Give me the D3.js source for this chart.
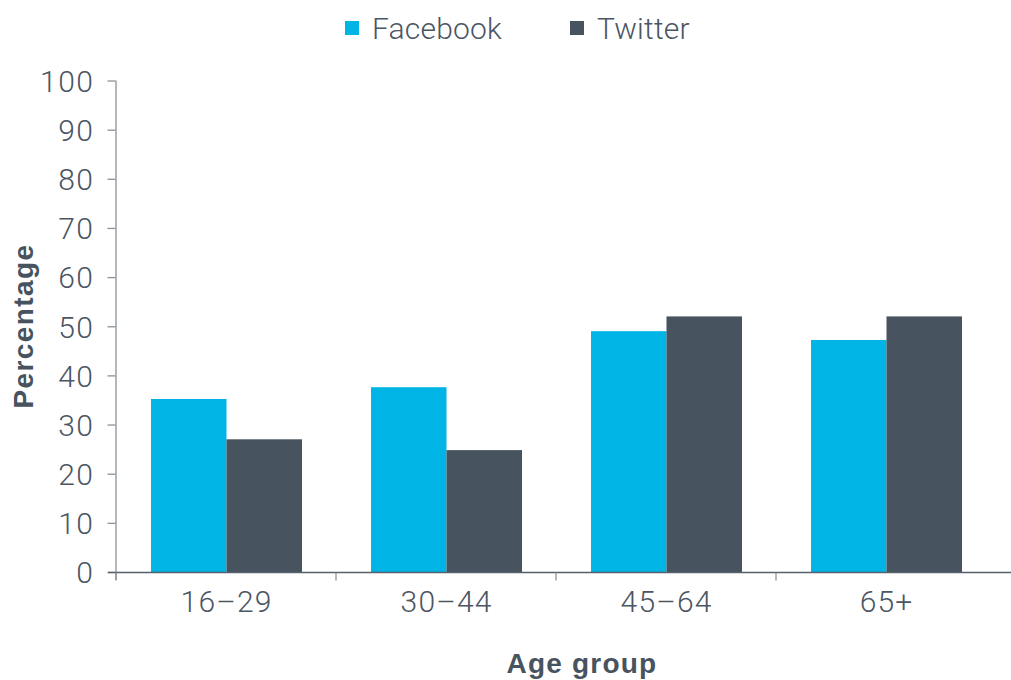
<!DOCTYPE html>
<html><head><meta charset="utf-8">
<script src="https://cdn.jsdelivr.net/npm/d3@7"></script>
<style>
html,body{margin:0;padding:0;background:#fff;}
svg text{font-family:"Liberation Sans","Helvetica Neue",Arial,sans-serif;}
svg text.light{font-family:Roboto,"Liberation Sans",Arial,sans-serif;font-weight:300;}
</style></head>
<body>
<svg id="chart" width="1011" height="680"></svg>
<script>
const categories = ["16\u201329", "30\u201344", "45\u201364", "65+"];
const seriesNames = ["Facebook", "Twitter"];
const facebook = [35.2, 37.6, 49, 47.2];
const twitter = [27, 24.8, 52, 52];
const yTicks = [0, 10, 20, 30, 40, 50, 60, 70, 80, 90, 100];
const colors = ["#00b4e6", "#47535e"];

(function () {
const svg = d3.select("#chart");
const textCol = "#4b5563";
const pLeft = 116, pRight = 996, pTop = 80.5, pBottom = 572;

const x0 = d3.scaleBand().domain(categories).range([pLeft, pRight]).padding(0);
const x1 = d3.scaleBand().domain(seriesNames).range([35, 186]).padding(0);
const y = d3.scaleLinear().domain([0, 100]).range([pBottom, pTop]);
const color = d3.scaleOrdinal().domain(seriesNames).range(colors);

const data = categories.map((c, i) => ({cat: c, values: [
  {name: "Facebook", v: facebook[i]}, {name: "Twitter", v: twitter[i]}]}));

// bars
const g = svg.append("g");
g.selectAll("g.grp").data(data).join("g").attr("class", "grp")
  .attr("transform", d => `translate(${x0(d.cat)},0)`)
  .selectAll("rect").data(d => d.values).join("rect")
  .attr("x", d => x1(d.name)).attr("width", x1.bandwidth())
  .attr("y", d => y(d.v)).attr("height", d => y(0) - y(d.v))
  .attr("fill", d => color(d.name));

// y axis
const yAxis = svg.append("g").attr("transform", `translate(${pLeft - 0.5},0)`)
  .call(d3.axisLeft(y).tickValues(yTicks).tickSize(8).tickPadding(13).tickSizeOuter(0));
yAxis.select(".domain").attr("stroke", "#8a9199").attr("stroke-width", 1.3)
  .attr("d", `M0.5,${pTop}V${pBottom + 8}`);
yAxis.selectAll(".tick line").attr("stroke", "#8a9199").attr("stroke-width", 1.3);
yAxis.selectAll(".tick text").attr("class", "light").attr("fill", textCol).attr("font-size", 30)
  .attr("letter-spacing", 1.5).attr("dy", "0.36em");

// x axis
const xAxis = svg.append("g").attr("transform", `translate(0,${pBottom + 0.5})`)
  .call(d3.axisBottom(x0).tickSize(0).tickPadding(18));
xAxis.select(".domain").attr("stroke", "#56616c").attr("stroke-width", 1.5)
  .attr("d", `M${pLeft - 8},0H1011`);
xAxis.selectAll(".tick text").attr("class", "light").attr("fill", textCol).attr("font-size", 30)
  .attr("letter-spacing", 1.2).attr("dx", "0.6");
const bounds = categories.map(c => x0(c));
xAxis.selectAll("line.bt").data(bounds).join("line").attr("class", "bt")
  .attr("x1", d => d).attr("x2", d => d).attr("y1", 0).attr("y2", 8)
  .attr("stroke", "#8a9199").attr("stroke-width", 1.3);

// axis titles
svg.append("text").attr("transform", "translate(33,326) rotate(-90)")
  .attr("text-anchor", "middle").attr("font-size", 28).attr("font-weight", "bold")
  .attr("letter-spacing", 1.4).attr("fill", "#47535e").text("Percentage");
svg.append("text").attr("x", 582).attr("y", 673)
  .attr("text-anchor", "middle").attr("font-size", 28).attr("font-weight", "bold")
  .attr("letter-spacing", 1.2).attr("fill", "#47535e").text("Age group");

// legend
const legendX = [345, 570];
const lg = svg.append("g").selectAll("g").data(seriesNames).join("g")
  .attr("transform", (d, i) => `translate(${legendX[i]},21)`);
lg.append("rect").attr("width", 14).attr("height", 14).attr("fill", d => color(d));
lg.append("text").attr("class", "light").attr("x", 27).attr("y", 18).attr("font-size", 30)
  .attr("letter-spacing", 0.2).attr("fill", textCol).text(d => d);
})();
</script>
</body></html>
